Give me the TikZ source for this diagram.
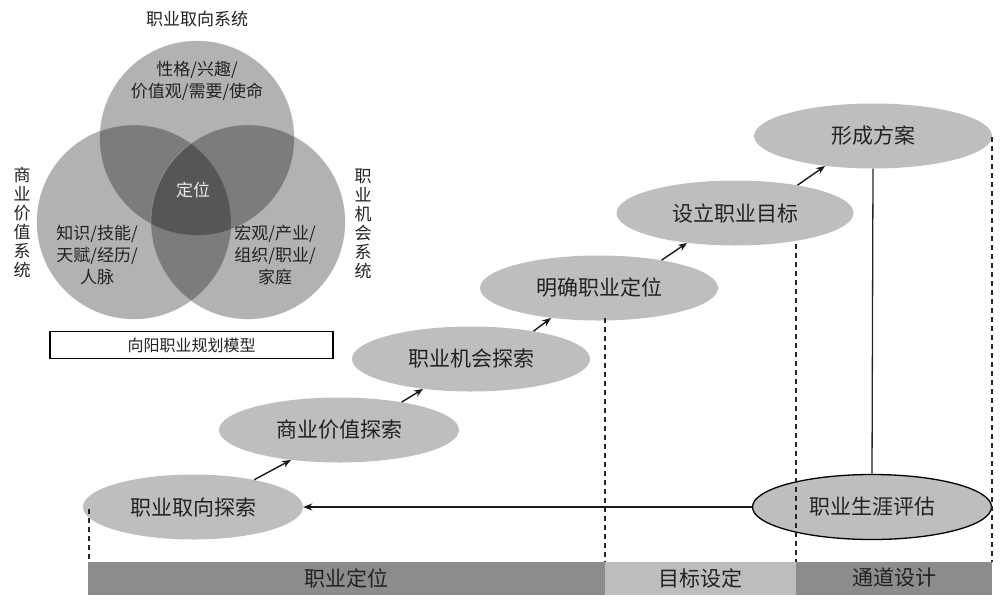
\documentclass[tikz,border=0pt]{standalone}
\usepackage{fontspec}
\setmainfont{Noto Sans CJK SC}
\usetikzlibrary{shapes.geometric,arrows.meta}
\definecolor{egray}{HTML}{BEBEBE}
\definecolor{bdark}{HTML}{8C8C8C}
\definecolor{blight}{HTML}{BDBDBD}
\definecolor{txt}{HTML}{222222}
\begin{document}
\begin{tikzpicture}[x=1pt,y=-1pt,
  stage/.style={ellipse,fill=egray,inner sep=0pt,minimum height=65pt,text=txt,font=\fontsize{21}{25}\selectfont},
  bar/.style={rectangle,inner sep=0pt,minimum height=33pt,text=txt,font=\fontsize{21}{25}\selectfont},
  venn/.style={fill=black,fill opacity=0.3,draw=gray!60,draw opacity=0.5,line width=0.6pt},
  vlabel/.style={text=txt,align=center,inner sep=0pt,font=\fontsize{17}{22}\selectfont},
  vert/.style={text=txt,align=center,inner sep=0pt,font=\fontsize{17}{19}\selectfont},
  step arrow/.style={-{Stealth[length=9pt,width=7pt]},line width=1.4pt,black!90},
  guide/.style={dash pattern=on 5pt off 4pt,line width=1.2pt,black!85},
  link/.style={line width=1.3pt,black!85}]
\useasboundingbox (0,0) rectangle (1000,610);
\fill[white] (0,0) rectangle (1000,610);

% Venn diagram
\fill[venn] (197,138) circle (97);
\fill[venn] (134,222) circle (97);
\fill[venn] (248,222) circle (97);
\node[vlabel] (vt) at (197,19) {职业取向系统};
\node[vlabel] (v1) at (197,81) {性格/兴趣/\\价值观/需要/使命};
\node[vlabel,text=white!92!black] (vc) at (193,190) {定位};
\node[vlabel] (v2) at (97,255) {知识/技能/\\天赋/经历/\\人脉};
\node[vlabel] (v3) at (275,255) {宏观/产业/\\组织/职业/\\家庭};
\node[vert] (vl) at (22,222) {商\\业\\价\\值\\系\\统};
\node[vert] (vr) at (363,224) {职\\业\\机\\会\\系\\统};
\node[draw=black,line width=1.2pt,minimum width=283pt,minimum height=27pt,inner sep=0pt,text=txt,font=\fontsize{16}{20}\selectfont] (model) at (191.5,345) {向阳职业规划模型};

% stages
\node[stage,minimum width=220pt] (e1) at (193,507) {职业取向探索};
\node[stage,minimum width=240pt] (e2) at (339,430) {商业价值探索};
\node[stage,minimum width=238pt] (e3) at (471,359) {职业机会探索};
\node[stage,minimum width=238pt] (e4) at (599,288) {明确职业定位};
\node[stage,minimum width=237pt] (e5) at (735,213) {设立职业目标};
\node[stage,minimum width=238pt] (e6) at (873,136) {形成方案};

% dashed guides
\coordinate (g1t) at (89,509);  \coordinate (g1b) at (89,562);
\coordinate (g2t) at (605,318); \coordinate (g2b) at (605,562);
\coordinate (g3t) at (796,244); \coordinate (g3b) at (796,562);
\coordinate (g4t) at (992,137); \coordinate (g4b) at (992,562);

\node[stage,minimum width=239pt,draw=black,line width=1.3pt] (e7) at (872,507) {职业生涯评估};

\draw[guide] (g1t) -- (g1b);
\draw[guide] (g2t) -- (g2b);
\draw[guide] (g3t) -- (g3b);
\draw[guide] (g4t) -- (g4b);

% bars
\node[bar,fill=bdark,minimum width=517pt] (b1) at (346.5,578) {职业定位};
\node[bar,fill=blight,minimum width=191pt] (b2) at (700.5,578) {目标设定};
\node[bar,fill=bdark,minimum width=196pt] (b3) at (894,578) {通道设计};

% arrows
\draw[step arrow] (e1.24) -- (e2.212);
\draw[step arrow] (e2.24) -- (e3.212);
\draw[step arrow] (e3.24) -- (e4.212);
\draw[step arrow] (e4.24) -- (e5.212);
\draw[step arrow] (e5.24) -- (e6.212);
\draw[link] (e6.south) -- (e7.north);
\draw[step arrow] (e7.west) -- (e1.east);
\end{tikzpicture}
\end{document}
